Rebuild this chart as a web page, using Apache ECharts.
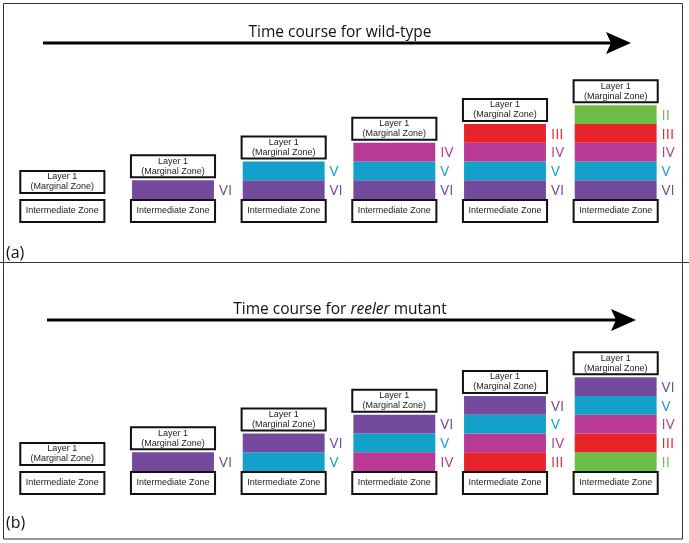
<!DOCTYPE html>
<html>
<head>
<meta charset="utf-8">
<script src="https://cdn.jsdelivr.net/npm/echarts@6/dist/echarts.min.js"></script>
<style>html,body{margin:0;padding:0;background:#fff}#c{width:689px;height:543px}</style>
</head>
<body>
<div id="c"></div>
<script>
// ---- data ----
const stages = ['t1', 't2', 't3', 't4', 't5', 't6'];
// cortical layers present at each stage, listed bottom to top
const wildTypeLayers = [[], ['VI'], ['VI', 'V'], ['VI', 'V', 'IV'], ['VI', 'V', 'IV', 'III'], ['VI', 'V', 'IV', 'III', 'II']];
const reelerLayers = [[], ['VI'], ['V', 'VI'], ['IV', 'V', 'VI'], ['III', 'IV', 'V', 'VI'], ['II', 'III', 'IV', 'V', 'VI']];
const layerNames = ['II', 'III', 'IV', 'V', 'VI'];
const layerColors = ['#6cbd45', '#e8232a', '#b93a95', '#13a1c9', '#744a9e'];
const topBoxLines = ['Layer 1', '(Marginal Zone)'];
const bottomBoxText = 'Intermediate Zone';
const titleA = 'Time course for wild-type';
const titleB = ['Time course for ', 'reeler', ' mutant'];

const colorOf = n => layerColors[layerNames.indexOf(n)];
const boxFont = '9px "Liberation Sans", Arial, sans-serif';
const titleFont = '"Open Sans", "Noto Sans", sans-serif';

function makeRender(layers) {
  return function (params, api) {
    const xi = api.value(0);
    const n = api.value(1);
    const names = layers[params.dataIndex];
    const band = api.size([1, 0])[0];
    const barW = band * 0.74;
    const boxW = band * 0.76;
    const base = api.coord([xi, 0]);
    const cx = base[0];
    const children = [];
    // intermediate zone box
    const izTop = base[1] + 1;
    children.push({type: 'rect', shape: {x: cx - boxW / 2, y: izTop, width: boxW, height: 22},
      style: {fill: '#fff', stroke: '#111', lineWidth: 2}});
    children.push({type: 'text', style: {x: cx, y: izTop + 11, text: bottomBoxText, font: boxFont,
      fill: '#222', align: 'center', verticalAlign: 'middle'}});
    // layer bars
    for (let k = 0; k < n; k++) {
      const p0 = api.coord([xi, k]);
      const p1 = api.coord([xi, k + 1]);
      const c = colorOf(names[k]);
      children.push({type: 'rect', shape: {x: cx - barW / 2, y: p1[1], width: barW, height: p0[1] - p1[1]},
        style: {fill: c}});
      children.push({type: 'text', style: {x: cx + barW / 2 + 5, y: (p0[1] + p1[1]) / 2 + 1, text: names[k],
        font: '15px "Open Sans", sans-serif', fill: c, align: 'left', verticalAlign: 'middle'}});
    }
    // Layer 1 box
    const topY = api.coord([xi, n])[1];
    const l1Bottom = topY - (n === 0 ? 6 : 3);
    children.push({type: 'rect', shape: {x: cx - boxW / 2, y: l1Bottom - 22, width: boxW, height: 22},
      style: {fill: '#fff', stroke: '#111', lineWidth: 2}});
    children.push({type: 'text', style: {x: cx, y: l1Bottom - 16, text: topBoxLines[0], font: boxFont,
      fill: '#222', align: 'center', verticalAlign: 'middle'}});
    children.push({type: 'text', style: {x: cx, y: l1Bottom - 6, text: topBoxLines[1], font: boxFont,
      fill: '#222', align: 'center', verticalAlign: 'middle'}});
    return {type: 'group', children: children};
  };
}

const chart = echarts.init(document.getElementById('c'), null, {renderer: 'canvas'});

function arrow(x1, x2, y) {
  return {type: 'group', silent: true, children: [
    {type: 'line', shape: {x1: x1, y1: y, x2: x2 - 14, y2: y}, style: {stroke: '#000', lineWidth: 3}},
    {type: 'polygon', shape: {points: [[x2 - 25, y - 11], [x2, y], [x2 - 25, y + 11], [x2 - 20, y]]}, style: {fill: '#000'}}
  ]};
}

chart.setOption({
  animation: false,
  title: [
    {text: titleA, left: 335, top: 20, textAlign: 'center',
      textStyle: {fontFamily: titleFont, fontSize: 15.5, fontWeight: 'normal', color: '#111'}},
    {text: '{n|' + titleB[0] + '}{i|' + titleB[1] + '}{n|' + titleB[2] + '}', left: 335, top: 297, textAlign: 'center',
      textStyle: {fontWeight: 'normal', rich: {
        n: {fontFamily: titleFont, fontSize: 15.5, fontWeight: 'normal', color: '#111'},
        i: {fontFamily: titleFont, fontSize: 15.5, fontWeight: 'normal', fontStyle: 'italic', color: '#111'}
      }}}
  ],
  grid: [
    {left: 7, width: 664, top: 49, height: 187.5},
    {left: 7, width: 664, top: 321, height: 187.5}
  ],
  xAxis: [
    {type: 'category', data: stages, gridIndex: 0, show: false},
    {type: 'category', data: stages, gridIndex: 1, show: false}
  ],
  yAxis: [
    {type: 'value', min: -2, max: 8, gridIndex: 0, show: false},
    {type: 'value', min: -2, max: 8, gridIndex: 1, show: false}
  ],
  graphic: [
    {type: 'rect', shape: {x: 3.5, y: 3.5, width: 679, height: 535.5}, style: {fill: 'none', stroke: '#333', lineWidth: 1}, z: 10},
    {type: 'line', shape: {x1: 0, y1: 262.5, x2: 689, y2: 262.5}, style: {stroke: '#333', lineWidth: 1}, z: 10},
    arrow(43, 631, 43),
    arrow(47, 636, 320),
    {type: 'text', left: 6, top: 245, style: {text: '(a)', font: '16px ' + titleFont, fill: '#111'}},
    {type: 'text', left: 6, top: 515, style: {text: '(b)', font: '16px ' + titleFont, fill: '#111'}}
  ],
  series: [
    {type: 'custom', xAxisIndex: 0, yAxisIndex: 0, renderItem: makeRender(wildTypeLayers),
      data: wildTypeLayers.map((l, i) => [i, l.length])},
    {type: 'custom', xAxisIndex: 1, yAxisIndex: 1, renderItem: makeRender(reelerLayers),
      data: reelerLayers.map((l, i) => [i, l.length])}
  ]
});
</script>
</body>
</html>
